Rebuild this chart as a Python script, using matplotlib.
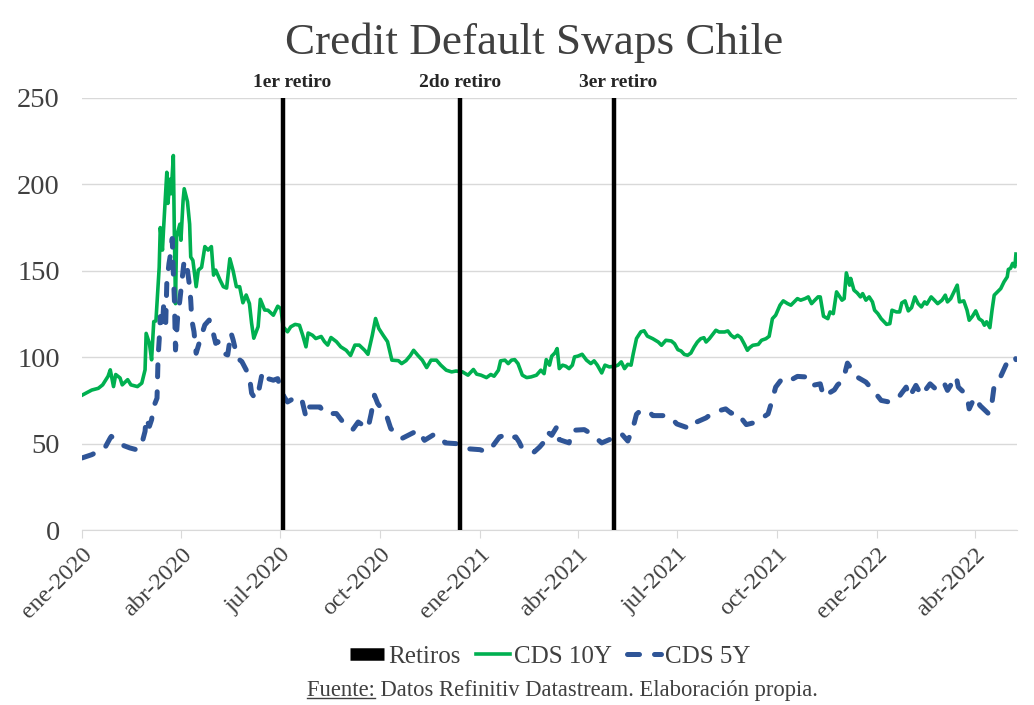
import numpy as np
import pandas as pd
import matplotlib.pyplot as plt
from matplotlib.lines import Line2D

plt.rcParams['font.family'] = ['Liberation Serif', 'DejaVu Serif']

# dias desde 2020-01-01 y valores
dias_10y = [0, 9, 15, 19, 24, 26, 29, 31, 35, 37, 42, 45, 51, 55, 58, 59, 62, 64, 66, 68,
            71, 72, 74, 75, 78, 79, 81, 82, 84, 85, 86, 87, 90, 91, 93, 94, 97, 99, 100, 102,
            105, 107, 110, 113, 116, 119, 121, 123, 127, 130, 133, 136, 139, 142, 145, 148, 151, 154, 156, 158,
            162, 164, 168, 171, 176, 180, 183, 185, 189, 192, 196, 200, 203, 206, 208, 212, 215, 220, 223, 226,
            229, 234, 238, 243, 247, 251, 255, 260, 263, 267, 270, 273, 277, 281, 285, 291, 294, 298, 302, 305,
            309, 313, 317, 321, 326, 330, 335, 340, 344, 350, 355, 360, 363, 367, 372, 376, 379, 383, 385, 389,
            392, 395, 398, 401, 405, 409, 413, 418, 422, 425, 427, 430, 432, 435, 437, 439, 442, 445, 448, 451,
            453, 456, 460, 464, 468, 471, 474, 478, 481, 485, 490, 493, 496, 499, 502, 505, 507, 510, 514, 517,
            520, 525, 530, 533, 537, 542, 545, 548, 551, 554, 557, 560, 563, 566, 569, 572, 574, 577, 580, 583,
            586, 591, 594, 597, 600, 603, 606, 609, 612, 614, 617, 622, 625, 629, 632, 635, 638, 642, 645, 649,
            652, 655, 658, 661, 665, 668, 671, 674, 677, 679, 682, 686, 688, 691, 694, 699, 701, 703, 706, 707,
            710, 713, 716, 718, 721, 724, 727, 729, 732, 735, 740, 743, 745, 749, 752, 754, 757, 760, 763, 766,
            769, 772, 775, 777, 781, 784, 787, 791, 794, 796, 799, 802, 805, 807, 811, 814, 816, 819, 822, 825,
            828, 830, 832, 835, 837, 839, 842, 845, 848, 851, 852, 854, 856, 858, 859]
cds_10y = [78, 81, 82, 84, 89, 92.7, 83, 90, 88, 84, 87, 84, 83, 85, 92.7, 113.8, 108, 98.5, 120.6, 121,
           152, 175, 162, 174, 207, 189, 203, 194.6, 216.7, 169, 131, 169.6, 177, 167.7, 190.8, 197.5, 190, 177, 158, 156,
           140.8, 150.4, 152, 164, 162, 164, 147.5, 150.4, 144.6, 140.8, 140, 157, 150, 140.8, 140.8, 131.5, 136, 131, 119.6, 111,
           117.7, 133.5, 127.3, 127.2, 124.3, 129.5, 128, 117.6, 114.7, 117.6, 119, 118.5, 112.7, 106, 114, 112.7, 110.8, 112, 109, 107,
           111.4, 109, 106, 104, 101, 107, 107, 104, 101.7, 112.7, 122.4, 116.6, 112.7, 109, 98.3, 98, 96.3, 98, 101, 104,
           101, 98.3, 94, 98.3, 98.3, 95.4, 92.5, 91.5, 92, 91.5, 89.6, 92.9, 90.2, 89.6, 88.2, 90, 89, 92.5, 97.9, 98.3,
           96.3, 98.3, 98.6, 96.3, 89.6, 88.2, 88.6, 89.6, 92.5, 90.5, 98.6, 95.4, 100.6, 102.5, 105, 93.4, 95.4, 94.8, 93.4, 95.4,
           100.2, 100.6, 101.7, 98.3, 96.3, 97.9, 95.4, 90.9, 95.4, 94.4, 94.8, 95.4, 97.3, 93.4, 95.9, 95.4, 102, 110.8, 114.7, 115.3,
           112.2, 110.7, 108.8, 106.9, 109.8, 109.4, 107.8, 104.4, 103.6, 101.6, 101.1, 102.4, 105.9, 108.8, 110.7, 111.3, 108.8, 110.7, 113.2, 115.6,
           114.6, 114.6, 115.2, 112.7, 111.3, 112.7, 111.3, 107.8, 104, 105.5, 106.9, 107.4, 109.8, 110.7, 112.1, 122.3, 124.3, 130.1, 132.6, 131,
           130.1, 132, 133.9, 133, 133.9, 134.9, 131, 133, 134.9, 134.9, 123.7, 122.3, 126.2, 125.2, 137.8, 133, 133.9, 148.8, 141.7, 145.6,
           138.8, 137.2, 134.9, 136.8, 133, 134.9, 132, 127.2, 125.2, 122.3, 119, 119.4, 127.2, 126.2, 126.2, 131.4, 132.6, 126.8, 128.7, 134.9,
           131, 129.1, 132, 130.7, 134.9, 133, 131, 133, 135.9, 132, 133.9, 137.8, 141.7, 132, 132.6, 127.2, 121.4, 123.7, 126.8, 122.3,
           121, 118.5, 120.5, 117.1, 127.2, 135.9, 137.8, 139.7, 143.6, 146.5, 150.8, 151.4, 154.3, 152.3, 159.7]

dias_5y = [0, 9, 21, 26, 27, 32, 36, 44, 50, 54, 58, 59, 62, 64, 66, 69, 70, 71, 72, 74,
           75, 77, 78, 80, 82, 83, 84, 85, 86, 88, 90, 92, 94, 97, 99, 100, 101, 103, 105, 110,
           113, 117, 120, 123, 125, 130, 134, 137, 139, 143, 147, 151, 154, 156, 159, 162, 163, 166, 169, 171,
           176, 180, 183, 186, 189, 197, 202, 206, 208, 219, 223, 234, 240, 249, 254, 263, 266, 269, 272, 280,
           284, 294, 300, 303, 309, 315, 324, 330, 334, 344, 349, 353, 366, 372, 376, 384, 389, 392, 399, 402,
           405, 416, 421, 425, 428, 432, 437, 439, 448, 451, 462, 468, 478, 485, 496, 502, 507, 510, 514, 522,
           525, 539, 543, 547, 560, 565, 574, 581, 592, 597, 602, 611, 620, 631, 634, 638, 645, 654, 658, 668,
           672, 679, 682, 692, 695, 700, 704, 707, 713, 721, 729, 735, 743, 750, 758, 761, 767, 772, 780, 786,
           793, 796, 804, 806, 814, 816, 821, 826, 834, 837, 839, 845, 851, 858, 859]
cds_5y = [41.7, 43.6, 47.5, 53.3, 54.2, 51.3, 49.4, 47.5, 46.5, 47.5, 57.1, 64.8, 60, 63.8, 71.5, 76.3, 100.4, 110, 123.5, 117.7,
          129.2, 119.6, 142.7, 154.2, 161.9, 168.7, 148.5, 133, 104.2, 123.5, 133, 144.6, 156.2, 150.4, 140.8, 133, 121.5, 114.8, 102.3, 112.9,
          118.7, 121.5, 115.8, 108, 109, 102.3, 101.3, 114.2, 110, 99.4, 97.5, 92.7, 88.8, 79.2, 76.3, 77.3, 82.1, 91.7, 89.8, 87.6,
          86.7, 87.6, 80.9, 77, 74.1, 77, 76, 65.4, 71.2, 71.2, 67.4, 67.4, 62.5, 58.1, 62.5, 58.7, 67.4, 78, 73.2, 66.4,
          58.7, 52.9, 54.8, 55.8, 57.7, 51.9, 55.4, 53.9, 50.4, 50, 48.1, 47.1, 46.5, 45.2, 47.1, 53.9, 54.8, 52.9, 53.9, 51,
          47.1, 45.2, 48.1, 51, 56.8, 54.8, 60, 52.3, 50.4, 57.7, 58.1, 55.8, 50.4, 52.3, 55.8, 51.5, 59.7, 67, 69.3, 68.3,
          66.2, 66.2, 64.3, 61.4, 58.5, 62.4, 64.9, 68.2, 70.1, 67.6, 68.2, 61, 62.4, 67.2, 73.4, 82.7, 88.5, 87.5, 88.9, 88.5,
          83.7, 84.6, 77.3, 81.1, 84, 86.6, 96.6, 93.9, 88.5, 85.6, 79.8, 75, 74, 75.9, 82.7, 76.9, 83.7, 77.9, 84.6, 81.1,
          85, 80.8, 88.9, 82.7, 77.9, 70.1, 76.9, 72, 67.2, 74, 83.7, 88.9, 97.2, 100.5, 98.6]

retiros = ['2020-07-04', '2020-12-14', '2021-05-04']
retiros_txt = ['1er retiro', '2do retiro', '3er retiro']
retiros_lbl = ['2020-07-12', '2020-12-14', '2021-05-08']
meses = ['2020-01-01', '2020-04-01', '2020-07-01', '2020-10-01', '2021-01-01',
         '2021-04-01', '2021-07-01', '2021-10-01', '2022-01-01', '2022-04-01']
meses_txt = ['ene-2020', 'abr-2020', 'jul-2020', 'oct-2020', 'ene-2021',
             'abr-2021', 'jul-2021', 'oct-2021', 'ene-2022', 'abr-2022']

inicio = pd.Timestamp('2020-01-01')
f10 = inicio + pd.to_timedelta(dias_10y, unit='D')
f5 = inicio + pd.to_timedelta(dias_5y, unit='D')

gris = '#404040'
verde = '#00B050'
azul = '#2F5597'

fig = plt.figure(figsize=(10.34, 7.05), dpi=100)
ax = fig.add_axes([0.0793, 0.2482, 0.9043, 0.6128])

ax.plot(f10, cds_10y, color=verde, lw=2.6, zorder=2)
ax.plot(f5, cds_5y, color=azul, lw=3.6, dashes=(2.4, 3.0), dash_capstyle='round', zorder=2)
for f, fl, txt in zip(retiros, retiros_lbl, retiros_txt):
    ax.axvline(pd.Timestamp(f), color='black', lw=3.2, zorder=3)
    ax.text(pd.Timestamp(fl), 1.035, txt, transform=ax.get_xaxis_transform(),
            ha='center', va='center', fontsize=14, fontweight='bold', color='#262626')

ax.set_ylim(0, 250)
ax.set_xlim(inicio, inicio + pd.Timedelta(days=860))
ax.set_yticks([0, 50, 100, 150, 200, 250])
ax.set_xticks(pd.to_datetime(meses))
ax.set_xticklabels(meses_txt, rotation=45, ha='right', rotation_mode='anchor')
ax.tick_params(axis='y', length=0, pad=16, labelsize=20.5, labelcolor=gris)
ax.tick_params(axis='x', length=6, color='#d9d9d9', pad=4, labelsize=17.5, labelcolor=gris)
ax.grid(axis='y', color='#d9d9d9', lw=1)
ax.set_axisbelow(True)
for s in ['top', 'right', 'left']:
    ax.spines[s].set_visible(False)
ax.spines['bottom'].set_color('#d9d9d9')

fig.text(0.517, 0.940, 'Credit Default Swaps Chile', ha='center', va='center',
         fontsize=32.5, color=gris)

handles = [Line2D([], [], color='black', lw=9, solid_capstyle='butt'),
           Line2D([], [], color=verde, lw=2.6),
           Line2D([], [], color=azul, lw=3.6, dashes=(2.4, 3.0), dash_capstyle='round')]
fig.legend(handles, ['Retiros', 'CDS 10Y', 'CDS 5Y'], loc='center',
           bbox_to_anchor=(0.532, 0.069), ncol=3, frameon=False, fontsize=18,
           handlelength=1.36, handletextpad=0.16, columnspacing=0.6, labelcolor=gris)

fuente = fig.text(0.544, 0.021, 'Fuente: Datos Refinitiv Datastream. Elaboración propia.',
                  ha='center', va='center', fontsize=16.3, color=gris)
fig.canvas.draw()
r = fig.canvas.get_renderer()
bb = fuente.get_window_extent(r)
tmp = fig.text(0, 0, 'Fuente:', fontsize=16.3)
w = tmp.get_window_extent(r).width
tmp.remove()
W, H = fig.bbox.width, fig.bbox.height
fig.add_artist(Line2D([bb.x0 / W, (bb.x0 + w) / W], [(bb.y0 + 2.5) / H] * 2,
                      transform=fig.transFigure, color=gris, lw=1))

fig.savefig('out.png', dpi=100)
